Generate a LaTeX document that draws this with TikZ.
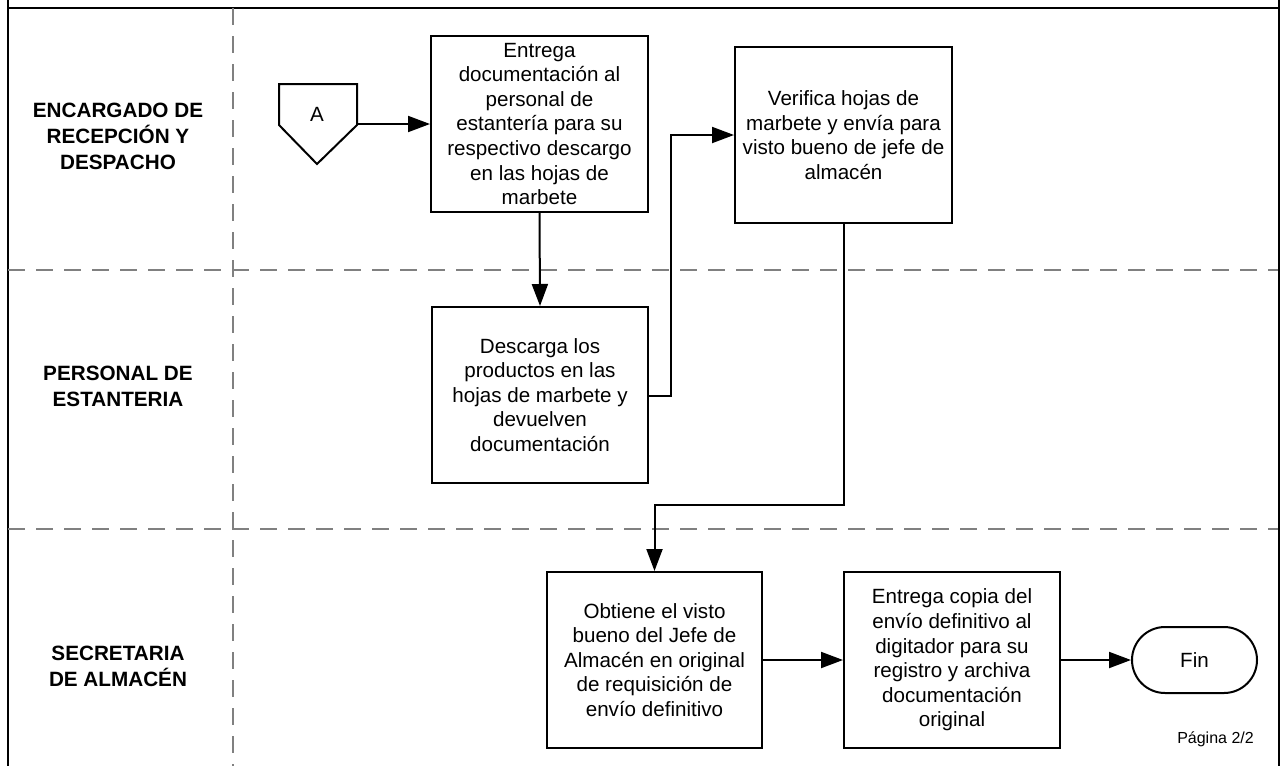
\documentclass[tikz,border=0pt]{standalone}
\usepackage{fontspec}
\setmainfont{Liberation Sans}
\usetikzlibrary{arrows.meta,shapes.misc}
\begin{document}
\begin{tikzpicture}[x=1pt,y=-1pt,
  frame/.style={line width=2pt,black},
  lanesep/.style={line width=2pt,color={rgb,255:red,128;green,128;blue,128},dash pattern=on 17pt off 11pt},
  lanelabel/.style={align=center,inner sep=0pt,font={\fontsize{20.7}{26}\selectfont\bfseries}},
  procbox/.style={draw,line width=2pt,align=center,inner sep=0pt,font={\fontsize{20.6}{24.6}\selectfont}},
  term/.style={draw,line width=2pt,rounded rectangle,minimum width=125pt,minimum height=66pt,inner sep=0pt,font={\fontsize{20.6}{24.6}\selectfont}},
  conn/.style={line width=2pt,-{Triangle[length=22pt,width=16pt]}}]
\useasboundingbox (0,0) rectangle (1282,766);
% frame
\draw[frame] (7.5,0) -- (7.5,766);
\draw[frame] (1279,0) -- (1279,766);
\draw[frame] (7.5,7.5) -- (1279,7.5);
% lane separators
\draw[lanesep] (8,270) -- (1278,270);
\draw[lanesep] (8,529) -- (1278,529);
\draw[lanesep] (232.5,8) -- (232.5,766);
% lane labels
\node[lanelabel] (l1) at (118,136) {ENCARGADO DE\\RECEPCIÓN Y\\DESPACHO};
\node[lanelabel] (l2) at (118,386) {PERSONAL DE\\ESTANTERIA};
\node[lanelabel] (l3) at (118,666) {SECRETARIA\\DE ALMACÉN};
% off-page connector A
\draw[line width=2pt,line join=miter] (279,84) -- (357,84) -- (357,125) -- (317,164) -- (279,125) -- cycle;
\node[font={\fontsize{20.6}{24.6}\selectfont},inner sep=0pt] (A) at (317,114) {A};
\coordinate (Aout) at (357,124);
% process boxes
\node[procbox,minimum width=217pt,minimum height=176pt] (b1) at (539.5,124) {Entrega\\documentación al\\personal de\\estantería para su\\respectivo descargo\\en las hojas de\\marbete};
\node[procbox,minimum width=216pt,minimum height=176pt] (b2) at (540,395) {Descarga los\\productos en las\\hojas de marbete y\\devuelven\\documentación};
\node[procbox,minimum width=217pt,minimum height=176pt] (b3) at (843.5,135) {Verifica hojas de\\marbete y envía para\\visto bueno de jefe de\\almacén};
\node[procbox,minimum width=215pt,minimum height=176pt] (b4) at (654.5,660) {Obtiene el visto\\bueno del Jefe de\\Almacén en original\\de requisición de\\envío definitivo};
\node[procbox,minimum width=216pt,minimum height=176pt] (b5) at (952,660) {Entrega copia del\\envío definitivo al\\digitador para su\\registro y archiva\\documentación\\original};
\node[term] (fin) at (1194.5,660) {Fin};
\node[font={\fontsize{16}{19}\selectfont},inner sep=0pt,anchor=base] (pg) at (1215.5,743) {Página 2/2};
% connectors
\draw[conn] (Aout) -- (b1.west);
\draw[conn] (b1.south) -- (b2.north);
\coordinate (e1) at (671,396);
\coordinate (e2) at (671,135);
\draw[conn] (b2.east |- e1) -- (e1) -- (e2) -- (b3.west);
\coordinate (e3) at (843.5,505);
\coordinate (e4) at (654.5,505);
\draw[conn] (b3.south) -- (e3) -- (e4) -- (b4.north);
\draw[conn] (b4.east) -- (b5.west);
\draw[conn] (b5.east) -- (fin.west);
\end{tikzpicture}
\end{document}
